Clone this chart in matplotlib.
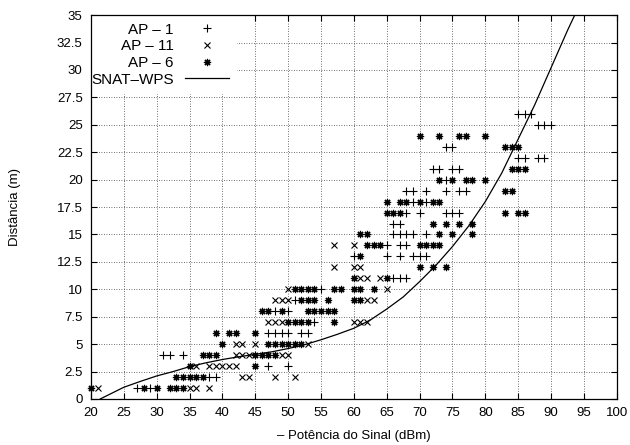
import numpy as np
import matplotlib
matplotlib.use("Agg")
import matplotlib.pyplot as plt

plt.rcParams['font.family'] = ['Liberation Sans', 'DejaVu Sans']
plt.rcParams['font.size'] = 9.5

# AP - 1 (+)
ap1_x = [27, 29, 38, 39, 47, 50, 31, 32, 34, 47, 48, 49, 50, 52, 53, 54, 48, 50, 51, 55,
         66, 67, 68, 60, 65, 67, 69, 70, 71, 65, 67, 68, 66, 67, 68, 69, 71, 66, 67,
         68, 70, 74, 75, 76, 69, 71, 68, 69, 71, 74, 76, 77, 74, 72, 73, 75, 76,
         85, 86, 88, 89, 74, 75, 88, 89, 90, 85, 86, 87]
ap1_y = [1, 1, 2, 2, 3, 3, 4, 4, 4, 6, 6, 6, 6, 6, 6, 7, 8, 8, 9, 10,
         11, 11, 11, 13, 13, 13, 13, 13, 13, 14, 14, 14, 15, 15, 15, 15, 15, 16, 16,
         17, 17, 17, 17, 17, 18, 18, 19, 19, 19, 19, 19, 19, 20, 21, 21, 21, 21,
         22, 22, 22, 22, 23, 23, 25, 25, 25, 26, 26, 26]

# AP - 11 (x)
ap11_x = [21, 35, 36, 38, 43, 44, 48, 51, 36, 38, 39, 40, 41, 42, 42, 43, 44, 49, 50,
          42, 43, 45, 53, 47, 48, 49, 60, 61, 62, 48, 49, 50, 62, 63, 50, 65,
          61, 62, 64, 57, 60, 61, 57, 60]
ap11_y = [1, 1, 1, 1, 2, 2, 2, 2, 3, 3, 3, 3, 3, 3, 4, 4, 4, 4, 4,
          5, 5, 5, 5, 7, 7, 7, 7, 7, 7, 9, 9, 9, 9, 9, 10, 10,
          11, 11, 11, 12, 12, 12, 14, 14]

# AP - 6 (*)
ap6_x = [20, 28, 30, 32, 33, 34, 33, 34, 35, 36, 37, 35, 45, 37, 38, 39, 45, 46, 47, 48,
         40, 47, 48, 49, 50, 51, 52, 39, 41, 42, 45, 50, 51, 52, 53, 57,
         46, 47, 49, 53, 54, 55, 56, 57, 52, 53, 54, 56, 60, 61,
         51, 52, 53, 54, 57, 58, 60, 61, 63, 60, 65, 70, 72, 74, 61,
         62, 63, 64, 70, 71, 72, 73, 61, 62, 73, 75, 78, 72, 74, 76, 78,
         65, 66, 67, 83, 85, 86, 65, 67, 68, 70, 72, 73, 83, 84,
         73, 75, 77, 78, 80, 84, 85, 86, 83, 84, 85, 70, 73, 76, 77, 80]
ap6_y = [1, 1, 1, 1, 1, 1, 2, 2, 2, 2, 2, 3, 3, 4, 4, 4, 4, 4, 4, 4,
         5, 5, 5, 5, 5, 5, 5, 6, 6, 6, 6, 7, 7, 7, 7, 7,
         8, 8, 8, 8, 8, 8, 8, 8, 9, 9, 9, 9, 9, 9,
         10, 10, 10, 10, 10, 10, 10, 10, 10, 11, 11, 12, 12, 12, 13,
         14, 14, 14, 14, 14, 14, 14, 15, 15, 15, 15, 15, 16, 16, 16, 16,
         17, 17, 17, 17, 17, 17, 18, 18, 18, 18, 18, 18, 19, 19,
         20, 20, 20, 20, 20, 21, 21, 21, 23, 23, 23, 24, 24, 24, 24, 24]

# SNAT-WPS curve
snat_x = [21.4, 25, 27.5, 30, 32.5, 35, 37.5, 40, 42.5, 45, 47.5, 50, 52.5, 55, 57.5,
          60, 62.5, 65, 67.5, 70, 72.5, 75, 77.5, 80, 82.5, 85, 87.5, 90, 92.5, 93.6]
snat_y = [0.0, 1.07, 1.6, 2.1, 2.5, 2.95, 3.3, 3.6, 3.85, 4.07, 4.3, 4.6, 4.95, 5.4, 5.9,
          6.45, 7.2, 8.2, 9.3, 10.7, 12.2, 13.9, 15.8, 18.0, 20.6, 23.7, 26.8, 30.2, 33.6, 35.0]

xticks = list(range(20, 101, 5))
yticks = [0, 2.5, 5, 7.5, 10, 12.5, 15, 17.5, 20, 22.5, 25, 27.5, 30, 32.5, 35]
ytick_labels = ['0', '2.5', '5', '7.5', '10', '12.5', '15', '17.5', '20', '22.5',
                '25', '27.5', '30', '32.5', '35']

fig = plt.figure(figsize=(6.3, 4.45), dpi=100)
ax = fig.add_axes([0.1444, 0.1034, 0.8346, 0.8626])

ax.plot(ap1_x, ap1_y, linestyle='none', marker='+', markersize=5.2, markeredgewidth=0.8,
        color='black', clip_on=False, label='AP – 1')
ax.plot(ap11_x, ap11_y, linestyle='none', marker='x', markersize=4.4, markeredgewidth=0.8,
        color='black', clip_on=False, label='AP – 11')
ax.plot(ap6_x, ap6_y, linestyle='none', marker=(8, 2, 0), markersize=5.2, markeredgewidth=0.85,
        color='black', clip_on=False, label='AP – 6')
ax.plot(snat_x, snat_y, color='black', linewidth=0.9, label='SNAT–WPS')

ax.set_xlim(20, 100)
ax.set_ylim(0, 35)
ax.set_xticks(xticks)
ax.set_yticks(yticks)
ax.set_yticklabels(ytick_labels)
ax.tick_params(direction='in', top=True, right=True, length=4, width=0.8, pad=6)
ax.grid(True, color='0.25', linestyle=(0, (1, 2)), linewidth=0.6)
ax.set_axisbelow(True)
for s in ax.spines.values():
    s.set_linewidth(0.9)

ax.set_xlabel('– Potência do Sinal (dBm)', labelpad=8)
ax.set_ylabel('Distância (m)', labelpad=26)

# gnuplot-style key: right-aligned text, sample on the right, hides the grid only
leg = ax.legend(loc='upper left', bbox_to_anchor=(-0.0145, 1.0), markerfirst=False,
                frameon=True, fancybox=False, framealpha=1, edgecolor='none',
                fontsize=11, borderpad=0.5, borderaxespad=0, handlelength=2.9,
                handletextpad=0.72, labelspacing=0.17)
leg.get_frame().set_facecolor('white')
leg.set_zorder(2)

fig.savefig('out.png', dpi=100)
